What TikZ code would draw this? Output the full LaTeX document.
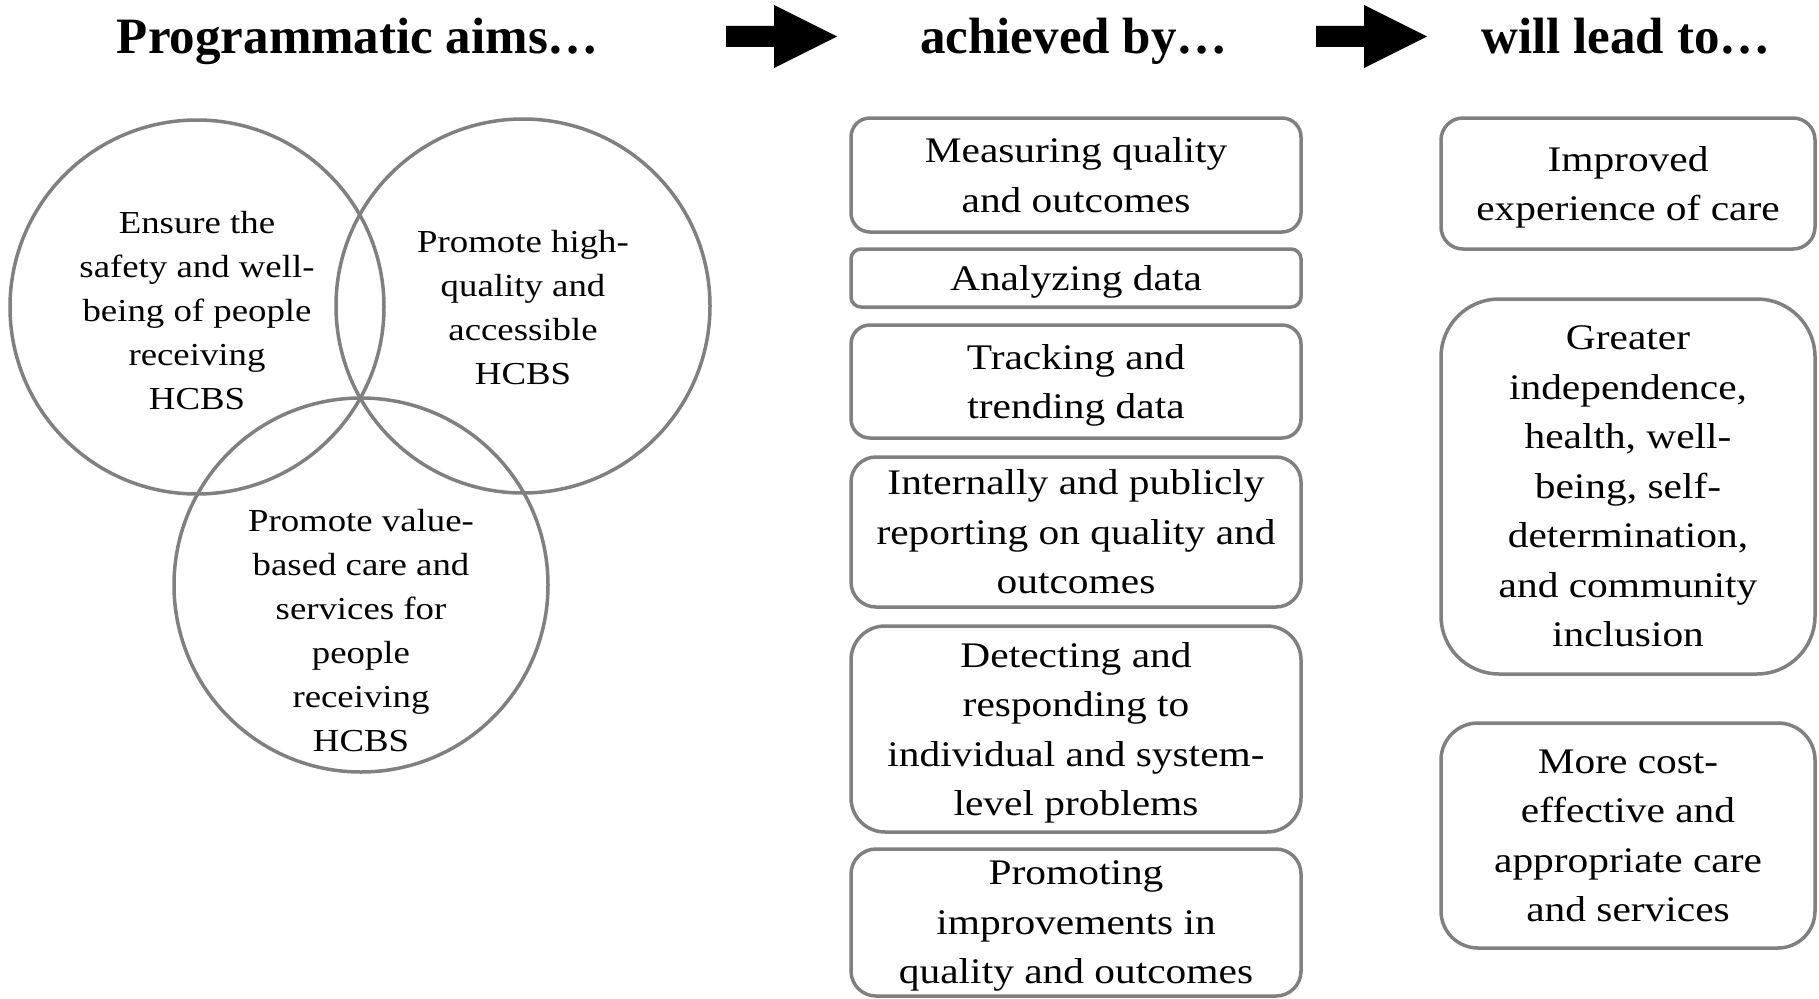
\documentclass[tikz,border=0pt]{standalone}
\usepackage{fontspec}
\setmainfont{Liberation Serif}
\newfontfamily\boxfont[FakeStretch=1.15]{Liberation Serif}
\definecolor{rimgray}{RGB}{128,128,128}

\begin{document}
\begin{tikzpicture}[x=1pt, y=-1pt,
		heading/.style={anchor=base, font=\bfseries\fontsize{51}{60}\selectfont},
		aim/.style={align=center, font=\boxfont\fontsize{32}{44}\selectfont},
		ring/.style={draw=rimgray, line width=3.5pt},
		card/.style={draw=rimgray, line width=3.5pt, rounded corners=#1, align=center, inner sep=0pt,
			text depth=-8pt, font=\boxfont\fontsize{36}{49.5}\selectfont},
		midcard/.style={card=#1, minimum width=450pt},
		endcard/.style={card=#1, minimum width=374pt}]
		\useasboundingbox (0,0) rectangle (1819,998);
		
		% Headings
		\node[heading] (aims) at (358,53) {Programmatic aims…};
		\node[heading] (means) at (1074,53) {achieved by…};
		\node[heading] (ends) at (1626,53) {will lead to…};
		\foreach \ax in {726,1316}
			\fill (\ax,26) -- ++(48,0) -- ++(0,-21) -- ++(63,31.5) -- ++(-63,31.5) -- ++(0,-21) -- ++(-48,0) -- cycle;
		
		% Venn circles
		\draw[ring] (197,307) circle[radius=187pt];
		\draw[ring] (523,306) circle[radius=187pt];
		\draw[ring] (361,585) circle[radius=187pt];
		\node[aim] (safety) at (197,311) {Ensure the\\safety and well-\\being of people\\receiving\\HCBS};
		\node[aim] (access) at (523,308) {Promote high-\\quality and\\accessible\\HCBS};
		\node[aim] (value) at (361,631) {Promote value-\\based care and\\services for\\people\\receiving\\HCBS};
		
		% Middle column
		\node[midcard=19pt, minimum height=114pt] (measure) at (1076,175) {Measuring quality\\and outcomes};
		\node[midcard=10pt, minimum height=58pt] (analyze) at (1076,278) {Analyzing data};
		\node[midcard=19pt, minimum height=113pt] (track) at (1076,381.5) {Tracking and\\trending data};
		\node[midcard=25pt, minimum height=150pt] (report) at (1076,532) {Internally and publicly\\reporting on quality and\\outcomes};
		\node[midcard=34pt, minimum height=206pt] (detect) at (1076,729) {Detecting and\\responding to\\individual and system-\\level problems};
		\node[midcard=25pt, minimum height=147pt] (improve) at (1076,922.5) {Promoting\\improvements in\\quality and outcomes};
		
		% Right column
		\node[endcard=22pt, minimum height=131pt] (experience) at (1628,183.5) {Improved\\experience of care};
		\node[endcard=58pt, minimum height=375pt] (independence) at (1628,486.5) {Greater\\independence,\\health, well-\\being, self-\\determination,\\and community\\inclusion};
		\node[endcard=37pt, minimum height=225pt] (cost) at (1628,835.5) {More cost-\\effective and\\appropriate care\\and services};
	\end{tikzpicture}
\end{document}
